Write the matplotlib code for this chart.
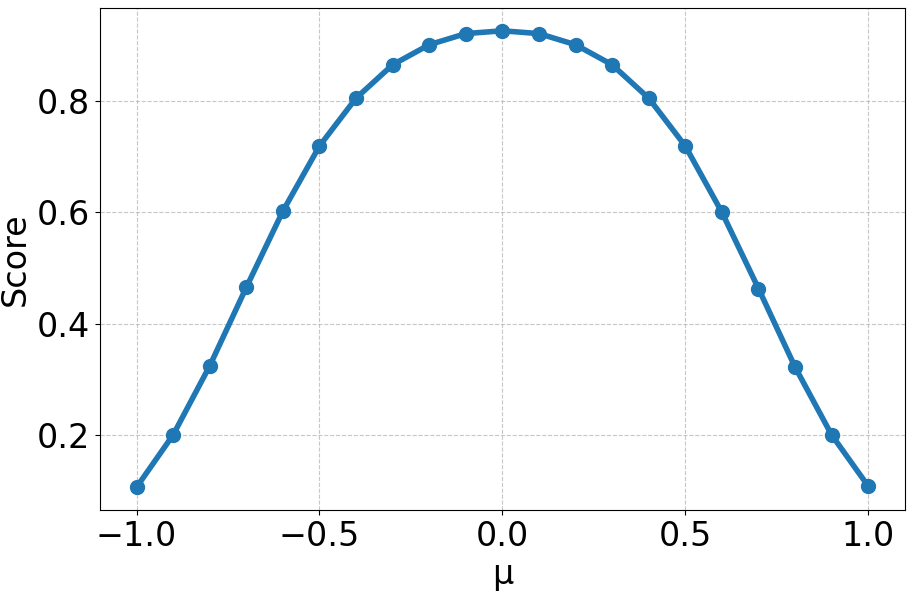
import matplotlib
matplotlib.use("Agg")
import matplotlib.pyplot as plt

mu = [-1.0, -0.9, -0.8, -0.7, -0.6, -0.5, -0.4, -0.3, -0.2, -0.1, 0.0,
      0.1, 0.2, 0.3, 0.4, 0.5, 0.6, 0.7, 0.8, 0.9, 1.0]
score = [0.106, 0.200, 0.324, 0.465, 0.602, 0.719, 0.805, 0.865, 0.901, 0.921, 0.926,
         0.921, 0.901, 0.865, 0.805, 0.719, 0.600, 0.463, 0.322, 0.200, 0.108]

fig = plt.figure(figsize=(9.13, 5.91), dpi=100)
ax = fig.add_axes([0.1095, 0.137, 0.8815, 0.8495])
ax.plot(mu, score, marker='o', linewidth=4, markersize=10, color='#1f77b4')
ax.set_xlabel('μ', fontsize=24)
ax.set_ylabel('Score', fontsize=24)
ax.tick_params(axis='both', labelsize=24)
ax.set_yticks([0.2, 0.4, 0.6, 0.8])
ax.grid(True, linestyle='--', alpha=0.7)
fig.savefig('out.png', dpi=100)
